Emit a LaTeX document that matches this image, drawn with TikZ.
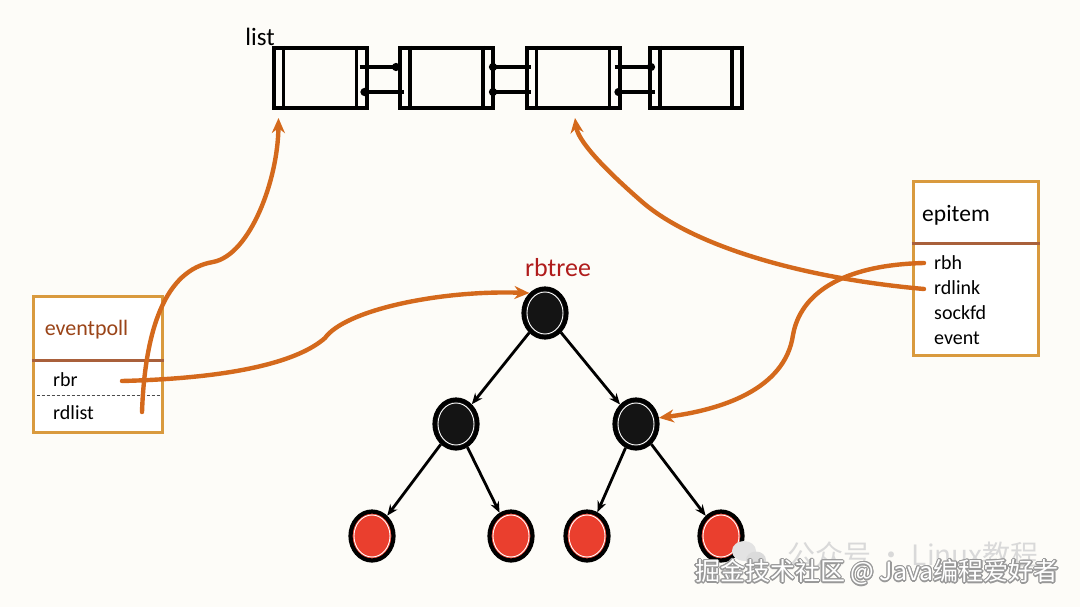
\documentclass[tikz,border=0pt]{standalone}
\usepackage{fontspec}
\setmainfont{Carlito}
\newfontfamily\cjkfont{Noto Sans CJK SC}
\usepackage[copies]{contour}
\usetikzlibrary{arrows.meta,calc,shapes.geometric}
\usepackage{xcolor}
\definecolor{boxc}{HTML}{D99A3E}
\definecolor{linkc}{HTML}{D4691C}
\definecolor{hdc}{HTML}{9A4418}
\definecolor{treered}{HTML}{B01C1C}
\definecolor{leafred}{HTML}{EA3F2E}
\definecolor{paper}{HTML}{FDFCF8}
\contourlength{1.1pt}

\begin{document}
\begin{tikzpicture}[x=1pt,y=-1pt,
    lb/.style={draw=black,line width=4pt,minimum width=93pt,minimum height=60pt,inner sep=0pt},
    sb/.style={draw=boxc,line width=3pt,fill=white,inner sep=0pt},
    bn/.style={ellipse,draw=black,line width=4.2pt,fill=black!92,minimum width=43pt,minimum height=49pt,inner sep=0pt,
      path picture={\draw[white,line width=0.9pt] (path picture bounding box.center) ellipse (18pt and 21pt);}},
    rn/.style={bn,fill=leafred},
    e/.style={-{Stealth[length=11pt,width=9pt]},line width=2.8pt,black},
    o/.style={-{Stealth[length=15pt,width=13pt]},line width=4.4pt,linkc,line cap=round},
    lk/.style={line width=3.2pt,black},
    dt/.style={-{Circle[length=8pt]}},
    td/.style={{Circle[length=8pt]}-},
    t/.style={font=\fontsize{20}{20}\selectfont,anchor=west,inner sep=0pt}
  ]
    \fill[paper] (0,0) rectangle (1080,607);
    \useasboundingbox (0,0) rectangle (1080,607);

    \node[lb] (l1) at (320,78) {};
    \node[lb] (l2) at (446.5,78) {};
    \node[lb] (l3) at (573,78) {};
    \node[lb,minimum width=92pt] (l4) at (696,78) {};
    \foreach \b in {l1,l2,l3,l4} {
      \draw[line width=3.4pt] ($(\b.north west)+(12,0)$) -- ($(\b.south west)+(12,0)$);
      \draw[line width=3.4pt] ($(\b.north east)+(-12,0)$) -- ($(\b.south east)+(-12,0)$);
    }
    \draw[lk,dt] ($(l1.east)+(-9,-11)$) -- ($(l2.west)+(2,-11)$);
    \draw[lk,td] ($(l1.east)+(-8,14)$) -- ($(l2.west)+(6,14)$);
    \draw[lk,td] ($(l2.east)+(-6,-11)$) -- ($(l3.west)+(6,-11)$);
    \draw[lk,td] ($(l2.east)+(-6,14)$) -- ($(l3.west)+(6,14)$);
    \draw[lk,dt] ($(l3.east)+(-7,-11)$) -- ($(l4.west)+(7,-11)$);
    \draw[lk,td] ($(l3.east)+(-7,14)$) -- ($(l4.west)+(7,14)$);
    \node[font=\fontsize{25}{25}\selectfont,inner sep=0pt] (lt) at (260,37) {list};

    \node[sb,minimum width=129pt,minimum height=136pt] (ep) at (97.5,364) {};
    \draw[hdc!85,line width=2.4pt] ($(ep.north west)+(0,66)$) -- ($(ep.north east)+(0,66)$);
    \draw[black!70,densely dashed,line width=1.2pt] ($(ep.north west)+(5,101)$) -- ($(ep.north east)+(-4,101)$);
    \node[font=\fontsize{22}{22}\selectfont,text=hdc,inner sep=0pt] (ept) at (86.5,330) {eventpoll};
    \node[t] (rbr) at (53,380) {rbr};
    \node[t] (rdl) at (53,413) {rdlist};
    \coordinate (rbrp) at (122,381);
    \coordinate (rdlp) at (142,412);

    \node[sb,minimum width=125pt,minimum height=173pt] (ei) at (975.5,268.5) {};
    \draw[hdc!85,line width=2.4pt] ($(ei.north west)+(0,63)$) -- ($(ei.north east)+(0,63)$);
    \node[font=\fontsize{23.5}{23.5}\selectfont,inner sep=0pt] (eit) at (956,215) {epitem};
    \node[t] (rbh) at (934,263) {rbh};
    \node[t] (rdk) at (934,288) {rdlink};
    \node[t] (sfd) at (934,313) {sockfd};
    \node[t] (evt) at (934,338) {event};
    \coordinate (rbhp) at (924,263);
    \coordinate (rdkp) at (924,289);

    \node[font=\fontsize{26}{26}\selectfont,text=treered,inner sep=0pt] (rbt) at (558,268) {rbtree};
    \node[bn] (r) at (545,313) {};
    \node[bn] (b1) at (456,424) {};
    \node[bn] (b2) at (636,424) {};
    \node[rn] (r1) at (372,536) {};
    \node[rn] (r2) at (511,536) {};
    \node[rn] (r3) at (587,536) {};
    \node[rn] (r4) at (721,536) {};
    \draw[e] (r) -- (b1); \draw[e] (r) -- (b2);
    \draw[e] (b1) -- (r1); \draw[e] (b1) -- (r2);
    \draw[e] (b2) -- (r3); \draw[e] (b2) -- (r4);

    \draw[o] (rdlp) .. controls (145,330) and (165,270) .. (213,262)
      .. controls (250,255) and (278,180) .. ($(l1.south west)+(7,8)$);
    \draw[o] (rbrp) .. controls (240,378) and (300,360) .. (325,338)
      .. controls (345,310) and (440,290) .. (r.128);
    \draw[o] (rdkp) .. controls (800,278) and (690,245) .. (640,200)
      .. controls (600,165) and (578,140) .. ($(l3.south)+(2,8)$);
    \draw[o] (rbhp) .. controls (840,265) and (800,295) .. (793,335)
      .. controls (785,390) and (720,410) .. (b2.15);

    \fill[gray!22] (744,551) ellipse (12pt and 10pt);
    \fill[gray!28] (756,560) ellipse (10pt and 8.5pt);
    \node[font=\cjkfont\fontsize{28}{28}\selectfont,text=gray!30,inner sep=0pt] (wm1) at (913,555) {公众号 · Linux教程};
    \node[font=\cjkfont\fontsize{25}{25}\selectfont,text=white,inner sep=0pt] (wm2) at (877,573) {\contour{gray!80}{掘金技术社区 @ Java编程爱好者}};
  \end{tikzpicture}
\end{document}
